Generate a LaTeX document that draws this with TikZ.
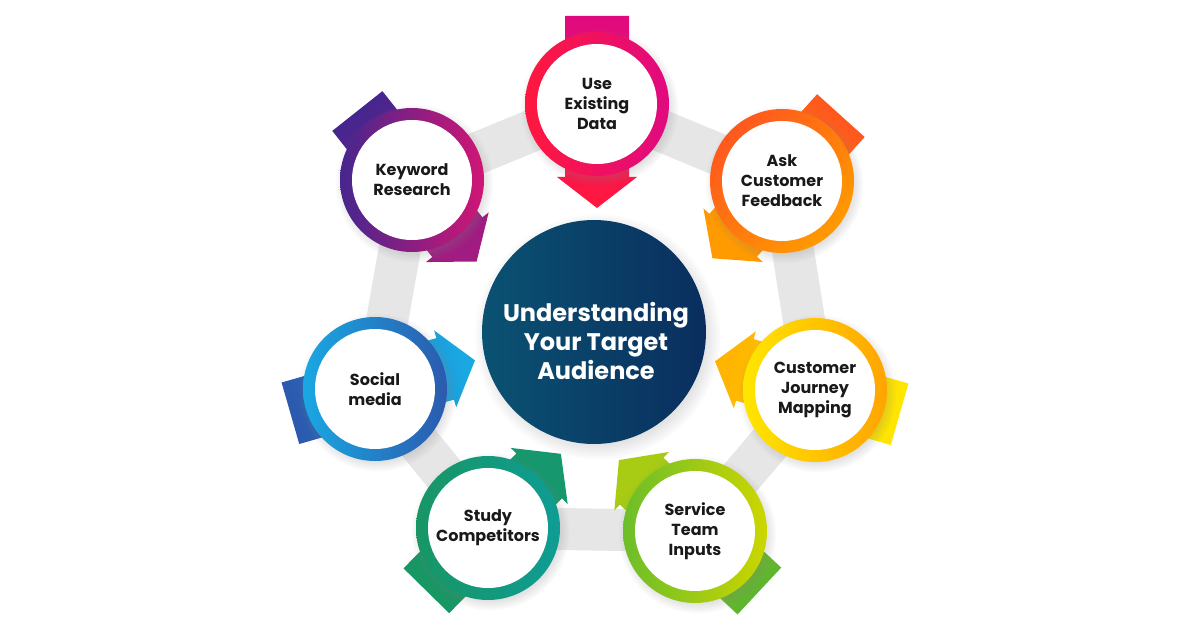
\documentclass[tikz,border=0pt]{standalone}
\usepackage{fontspec}
\setmainfont{Poppins}
\usepackage{tikz}
\usetikzlibrary{calc,backgrounds,shadows}
\usepackage{xcolor}

\begin{document}
\begin{tikzpicture}[x=1pt, y=1pt, every node/.style={font=\bfseries}]
	% Define colors
	\definecolor{bandgray}{RGB}{230,230,230}
	\definecolor{hubleft}{RGB}{10,82,114}
	\definecolor{hubright}{RGB}{10,46,94}
	\definecolor{dataA}{RGB}{255,24,62}
	\definecolor{dataB}{RGB}{224,10,128}
	\definecolor{askA}{RGB}{255,88,30}
	\definecolor{askB}{RGB}{255,154,0}
	\definecolor{mapA}{RGB}{255,230,0}
	\definecolor{mapB}{RGB}{255,164,0}
	\definecolor{mapHead}{RGB}{255,180,0}
	\definecolor{teamA}{RGB}{108,190,42}
	\definecolor{teamB}{RGB}{204,214,0}
	\definecolor{teamTail}{RGB}{95,181,48}
	\definecolor{teamHead}{RGB}{168,203,20}
	\definecolor{studyA}{RGB}{24,150,100}
	\definecolor{studyB}{RGB}{14,156,148}
	\definecolor{socialA}{RGB}{26,168,226}
	\definecolor{socialB}{RGB}{43,90,174}
	\definecolor{keyA}{RGB}{70,38,142}
	\definecolor{keyB}{RGB}{208,22,117}
	\definecolor{keyHead}{RGB}{160,28,128}

	% Styles
	\tikzstyle{ring} = [circle, minimum size=144pt, inner sep=0pt, align=center, text=black!90, font=\fontsize{16}{20}\selectfont\bfseries, circular drop shadow={shadow xshift=2pt, shadow yshift=-3pt, opacity=0.25}, path picture={\fill[white] (path picture bounding box.center) circle (60pt);}]
	\tikzstyle{hub} = [circle, minimum size=224pt, inner sep=0pt, left color=hubleft, right color=hubright, circular drop shadow={shadow xshift=3pt, shadow yshift=-4pt, opacity=0.25}]
	\tikzstyle{hubtext} = [align=center, text=white, font=\fontsize{24}{29}\selectfont\bfseries]
	\tikzstyle{band} = [line width=42pt, draw=bandgray, line join=round]

	% Block arrow behind a ring: node, angle, tail colour, head colour
	\def\blockarrow#1#2#3#4{%
		\pgfmathsetmacro\shadeang{#2-90}
		\shade[top color=#4, bottom color=#3, shading angle=\shadeang]
			($(#1)+(#2:-88)+(#2+90:32)$) -- ($(#1)+(#2:73)+(#2+90:32)$) -- ($(#1)+(#2:73)+(#2+90:40)$) -- ($(#1)+(#2:104)$)
			-- ($(#1)+(#2:73)+(#2-90:40)$) -- ($(#1)+(#2:73)+(#2-90:32)$) -- ($(#1)+(#2:-88)+(#2-90:32)$) -- cycle;
	}

	\useasboundingbox (0,0) rectangle (1200,630);

	% Centre
	\node[hub] (hub) at (594,298) {};
	\node[hubtext] (audience) at (596,289) {Understanding\\Your Target\\Audience};

	% Rings
	\node[ring, left color=dataA, right color=dataB] (data) at (597,526) {Use\\Existing\\Data};
	\node[ring, left color=askA, right color=askB, shading angle=45] (feedback) at (782,449) {Ask\\Customer\\Feedback};
	\node[ring, left color=mapA, right color=mapB] (journey) at (815,240) {Customer\\Journey\\Mapping};
	\node[ring, left color=teamA, right color=teamB] (service) at (695,99) {Service\\Team\\Inputs};
	\node[ring, left color=studyA, right color=studyB] (competitors) at (488,102) {Study\\Competitors};
	\node[ring, left color=socialA, right color=socialB] (social) at (375,241) {Social\\media};
	\node[ring, left color=keyA, right color=keyB] (keyword) at (412,450) {Keyword\\Research};

	\begin{pgfonlayer}{background}
		\fill[white] (0,0) rectangle (1200,630);

		% Grey band joining the rings
		\draw[band] (data.center) -- (feedback.center) -- (journey.center) -- (service.center)
			-- (competitors.center) -- (social.center) -- (keyword.center) -- cycle;

		% Arrows
		\blockarrow{data}{-90}{dataB}{dataA}
		\blockarrow{feedback}{-132}{askA}{askB}
		\blockarrow{journey}{164}{mapA}{mapHead}
		\blockarrow{service}{137}{teamTail}{teamHead}
		\blockarrow{competitors}{45.5}{studyA}{studyA!80!studyB}
		\blockarrow{social}{16}{socialB}{socialA}
		\blockarrow{keyword}{-51.6}{keyA}{keyHead}
	\end{pgfonlayer}

\end{tikzpicture}
\end{document}
